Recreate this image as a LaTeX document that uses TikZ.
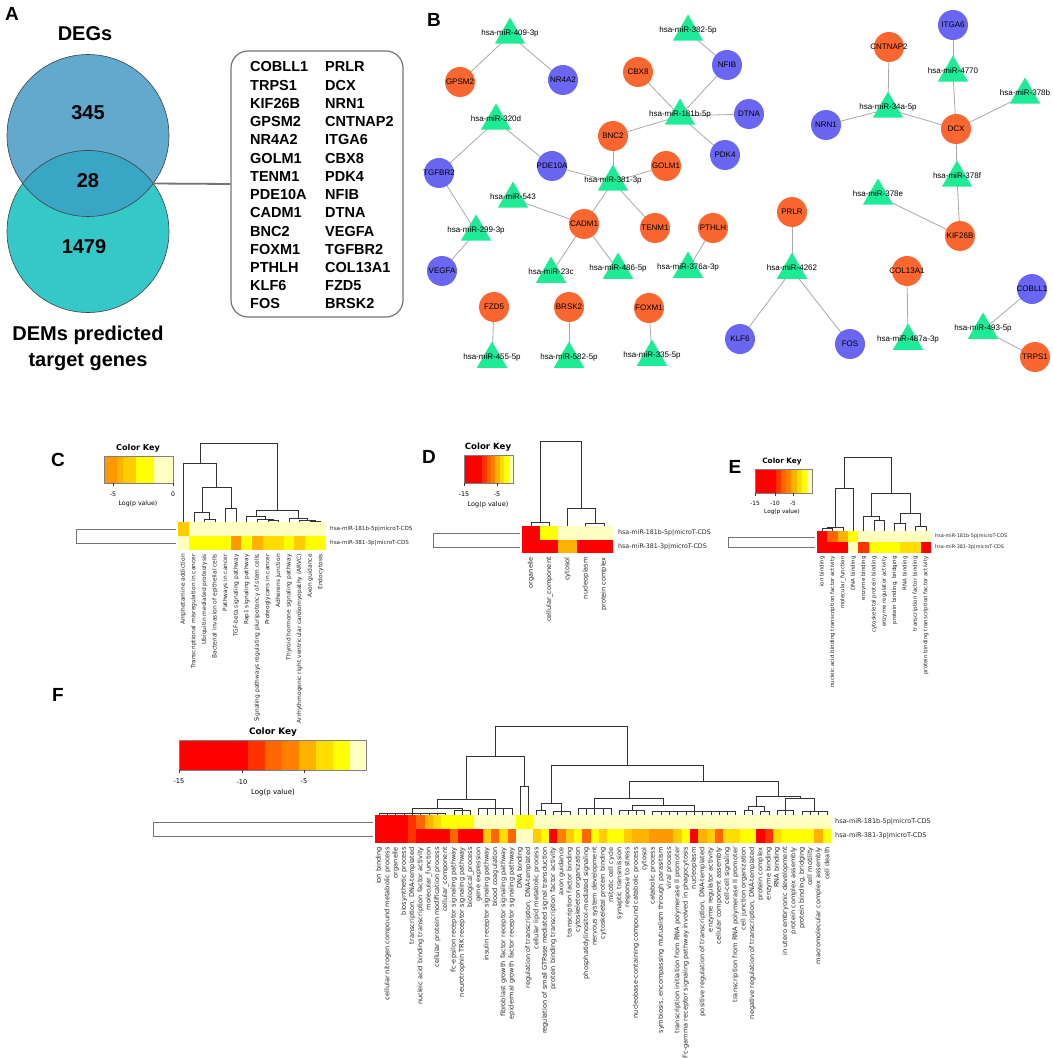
\documentclass[tikz,border=0pt]{standalone}
\usepackage{fontspec}
\setmainfont{Liberation Sans}
\newfontfamily\rfont{DejaVu Sans}
\usetikzlibrary{shapes.geometric,backgrounds}

\definecolor{degc}{HTML}{62A9CE}
\definecolor{demc}{HTML}{35C8C9}
\definecolor{bothc}{HTML}{3AA6C5}
\definecolor{downc}{HTML}{FA6630}
\definecolor{upc}{HTML}{6A66F2}
\definecolor{mirc}{HTML}{1EEB96}
\definecolor{edgec}{HTML}{A8A8A8}
% heat map colours, red to pale
\definecolor{hA}{HTML}{FF0000}
\definecolor{hB}{HTML}{FF3300}
\definecolor{hC}{HTML}{FF6600}
\definecolor{hD}{HTML}{FF8000}
\definecolor{hE}{HTML}{FF9900}
\definecolor{hF}{HTML}{FFB300}
\definecolor{hG}{HTML}{FFCC00}
\definecolor{hH}{HTML}{FFDD00}
\definecolor{hI}{HTML}{FFFF00}
\definecolor{hP}{HTML}{FFFFC0}

\newcommand{\fsz}[1]{\fontsize{#1}{#1}\selectfont}
% x0, y0, cell width, cell height, colours
\newcommand{\heatrow}[5]{%
  \foreach \c [count=\i from 0] in {#5} {\fill[\c] ({#1+\i*#3},#2) rectangle ++(#3,#4);}}
% x1, y1, x2, y2, merge height
\newcommand{\dlink}[5]{\draw[dendro] (#1,#2) |- (#3,#5) -- (#3,#4);}
% x0, width, first col, last col, height, base
\newcommand{\dcomb}[6]{%
  \draw[dendro] ({#1+(#3-0.5)*#2},#5) -- ({#1+(#4-0.5)*#2},#5);
  \foreach \k in {#3,...,#4} {\draw[dendro] ({#1+(\k-0.5)*#2},#5) -- ({#1+(\k-0.5)*#2},#6);}}
% x0, width, top, font size, prefix, labels
\newcommand{\collabels}[6]{%
  \foreach \t [count=\i] in {#6} {\node[collab, font=\rfont\fsz{#4}] (#5\i) at ({#1+(\i-0.5)*#2},#3) {\t};}}
% x0, y0, width, height
\newcommand{\colorkey}[4]{%
  \fill[hA] (#1,#2) rectangle ++({0.37*#3},#4);
  \foreach \c [count=\i from 0] in {hB,hC,hD,hF,hH,hI,hP} {\fill[\c] ({#1+(0.37+0.09*\i)*#3},#2) rectangle ++({0.09*#3+0.2},#4);}
  \draw[keyframe] (#1,#2) rectangle ++(#3,#4);}
% x, y, text, font size, name
\newcommand{\keytick}[5]{%
  \draw[dendro] (#1,#2) -- ++(0,3);
  \node[font=\rfont\fsz{#4}, inner sep=0pt] (#5) at (#1,{#2+#4+5}) {#3};}

\tikzset{
  panel/.style={font=\bfseries\fsz{19}, inner sep=0pt},
  venntitle/.style={font=\bfseries\fsz{20}, inner sep=0pt},
  vennnum/.style={font=\bfseries\fsz{20}, inner sep=0pt},
  vennline/.style={draw=black!75, line width=0.6pt},
  glist/.style={font=\bfseries\fsz{14.5}, anchor=west, inner sep=0pt},
  netlab/.style={font=\fsz{8}, inner sep=0pt},
  downgene/.style={circle, fill=downc, minimum size=30pt, inner sep=0pt, label={[netlab]center:#1}},
  upgene/.style={circle, fill=upc, minimum size=30pt, inner sep=0pt, label={[netlab]center:#1}},
  mir/.style={regular polygon, regular polygon sides=3, fill=mirc, minimum size=35pt, inner sep=0pt,
    label={[netlab, yshift=2pt]center:#1}},
  link/.style={draw=edgec, line width=0.8pt},
  dendro/.style={draw=black!80, line width=0.5pt},
  rowdendro/.style={draw=black!55, line width=1pt},
  keyframe/.style={draw=black!50, line width=0.4pt},
  keytitle/.style={font=\rfont\bfseries\fsz{#1}, inner sep=0pt},
  collab/.style={rotate=90, anchor=east, inner sep=0pt, text=black!85},
  rowlab/.style={font=\rfont\fsz{#1}, anchor=west, inner sep=0pt, text=black!85}
}

\begin{document}
\begin{tikzpicture}[x=1pt,y=-1pt]
\useasboundingbox (0,0) rectangle (1052,1059);

% ---- A: Venn diagram
\node[panel] (pa) at (12,14) {A};
\fill[demc] (88,231.5) circle[radius=81];
\fill[degc] (88,135.5) circle[radius=81];
\begin{scope}
  \clip (88,231.5) circle[radius=81];
  \fill[bothc] (88,135.5) circle[radius=81];
\end{scope}
\draw[vennline] (88,135.5) circle[radius=81];
\draw[vennline] (88,231.5) circle[radius=81];
\node[venntitle] (degs) at (85,34) {DEGs};
\node[vennnum] (n345) at (88,113) {345};
\node[vennnum] (n28) at (88,181) {28};
\node[vennnum] (n1479) at (84,247) {1479};
\node[venntitle] (dems) at (88,335) {DEMs predicted};
\node[venntitle] (tgenes) at (88,362) {target genes};

\node[draw=black!55, line width=1.2pt, rounded corners=17pt, minimum width=172pt,
  minimum height=266pt] (genebox) at (317,184) {};
\coordinate (venncut) at (153,183.5);
\draw[draw=black!55, line width=1.8pt] (venncut) -- (genebox.west);
\foreach \g [count=\i from 0] in {COBLL1,TRPS1,KIF26B,GPSM2,NR4A2,GOLM1,TENM1,PDE10A,CADM1,BNC2,FOXM1,PTHLH,KLF6,FOS}
  \node[glist] (ga\i) at (250,{67+18.23*\i}) {\g};
\foreach \g [count=\i from 0] in {PRLR,DCX,NRN1,CNTNAP2,ITGA6,CBX8,PDK4,NFIB,DTNA,VEGFA,TGFBR2,COL13A1,FZD5,BRSK2}
  \node[glist] (gb\i) at (325,{67+18.23*\i}) {\g};

% ---- B: miRNA-gene network
\node[panel] (pb) at (434,20) {B};
\node[mir=hsa-miR-409-3p] (mir409) at (510,35) {};
\node[downgene=GPSM2] (gpsm2) at (460,82) {};
\node[upgene=NR4A2] (nr4a2) at (563,80) {};
\node[mir=hsa-miR-382-5p] (mir382) at (688,32) {};
\node[upgene=NFIB] (nfib) at (727,65) {};
\node[downgene=CBX8] (cbx8) at (638,72) {};
\node[mir=hsa-miR-181b-5p] (mir181b) at (680,116) {};
\node[upgene=DTNA] (dtna) at (749,114) {};
\node[upgene=PDK4] (pdk4) at (725,155) {};
\node[downgene=BNC2] (bnc2) at (613,136) {};
\node[mir=hsa-miR-320d] (mir320d) at (496,121) {};
\node[upgene=TGFBR2] (tgfbr2) at (439,173) {};
\node[upgene=PDE10A] (pde10a) at (552,166) {};
\node[downgene=GOLM1] (golm1) at (666,166) {};
\node[mir=hsa-miR-381-3p] (mir381) at (613,182) {};
\node[mir=hsa-miR-543] (mir543) at (513,199) {};
\node[downgene=CADM1] (cadm1) at (584,224) {};
\node[downgene=TENM1] (tenm1) at (655,228) {};
\node[downgene=PTHLH] (pthlh) at (713,228) {};
\node[mir=hsa-miR-299-3p] (mir299) at (476,232) {};
\node[upgene=VEGFA] (vegfa) at (442,271) {};
\node[mir=hsa-miR-23c] (mir23c) at (551,274) {};
\node[mir=hsa-miR-486-5p] (mir486) at (618,270) {};
\node[mir=hsa-miR-376a-3p] (mir376a) at (688,269) {};
\node[downgene=FZD5] (fzd5) at (494,307) {};
\node[downgene=BRSK2] (brsk2) at (569,307) {};
\node[downgene=FOXM1] (foxm1) at (649,308) {};
\node[mir=hsa-miR-455-5p] (mir455) at (492,359) {};
\node[mir=hsa-miR-582-5p] (mir582) at (569,359) {};
\node[mir=hsa-miR-335-5p] (mir335) at (652,357) {};
\node[upgene=ITGA6] (itga6) at (953,25) {};
\node[downgene=CNTNAP2] (cntnap2) at (889,47) {};
\node[mir=hsa-miR-4770] (mir4770) at (953,73) {};
\node[mir=hsa-miR-378b] (mir378b) at (1025,95) {};
\node[mir=hsa-miR-34a-5p] (mir34a) at (888,109) {};
\node[upgene=NRN1] (nrn1) at (826,125) {};
\node[downgene=DCX] (dcx) at (956,129) {};
\node[mir=hsa-miR-378f] (mir378f) at (957,178) {};
\node[mir=hsa-miR-378e] (mir378e) at (878,196) {};
\node[downgene=KIF26B] (kif26b) at (960,236) {};
\node[downgene=PRLR] (prlr) at (792,212) {};
\node[mir=hsa-miR-4262] (mir4262) at (792,270) {};
\node[upgene=KLF6] (klf6) at (740,339) {};
\node[upgene=FOS] (fos) at (850,344) {};
\node[downgene=COL13A1] (col13a1) at (907,271) {};
\node[mir=hsa-miR-487a-3p] (mir487a) at (908,341) {};
\node[upgene=COBLL1] (cobll1) at (1032,289) {};
\node[mir=hsa-miR-493-5p] (mir493) at (983,330) {};
\node[downgene=TRPS1] (trps1) at (1035,357) {};
\begin{scope}[on background layer]
\foreach \a/\b in {mir409/gpsm2, mir409/nr4a2, mir382/nfib, mir181b/cbx8, mir181b/nfib,
    mir181b/dtna, mir181b/pdk4, mir181b/bnc2, mir320d/tgfbr2, mir320d/pde10a, mir381/bnc2,
    mir381/pde10a, mir381/golm1, mir381/cadm1, mir381/tenm1, mir543/cadm1, mir299/tgfbr2,
    mir299/vegfa, cadm1/mir23c, cadm1/mir486, pthlh/mir376a, fzd5/mir455, brsk2/mir582,
    foxm1/mir335, cntnap2/mir34a, nrn1/mir34a, mir34a/dcx, itga6/mir4770, mir4770/dcx,
    mir378b/dcx, dcx/mir378f, mir378f/kif26b, mir378e/kif26b, prlr/mir4262, mir4262/klf6,
    mir4262/fos, col13a1/mir487a, cobll1/mir493, mir493/trps1}
  \draw[link] (\a.center) -- (\b.center);
\end{scope}

% ---- C: KEGG pathways
\node[panel] (pc) at (58,460) {C};
\node[keytitle=8.1] (ckey) at (138,448) {Color Key};
\fill[hE] (104,456) rectangle (117.2,483);
\fill[hF] (117,456) rectangle (123.2,483);
\fill[hG] (123,456) rectangle (136.2,483);
\fill[hI] (136,456) rectangle (154.2,483);
\fill[hP] (154,456) rectangle (173,483);
\draw[keyframe] (104,456) rectangle (173,483);
\keytick{113}{483}{-5}{6.2}{ct5}
\keytick{173}{483}{0}{6.2}{ct0}
\node[font=\rfont\fsz{6.2}, inner sep=0pt] (clog) at (138,504) {Log(p value)};
\heatrow{178}{522}{10.57}{14}{hG,hP,hP,hP,hP,hP,hP,hP,hP,hP,hP,hP,hP,hP}
\heatrow{178}{536}{10.57}{14}{hP,hI,hI,hI,hI,hE,hI,hF,hH,hH,hI,hG,hI,hI}
\node[rowlab=5.6] (crow1) at (330,529) {hsa-miR-181b-5p|microT-CDS};
\node[rowlab=5.6] (crow2) at (330,543) {hsa-miR-381-3p|microT-CDS};
\draw[rowdendro] (176,529) -- (76,529) -- (76,543) -- (176,543);
\dlink{204.4}{522}{215}{522}{519}
\dlink{193.9}{522}{209.7}{519}{512}
\dlink{225.6}{522}{236.1}{522}{508}
\dlink{201.8}{512}{230.9}{508}{487}
\dlink{183.3}{522}{216.4}{487}{463}
\dlink{267.8}{522}{278.4}{522}{520.5}
\dlink{257.3}{522}{273.1}{520.5}{519}
\dlink{246.7}{522}{265.2}{519}{516}
\dlink{310.1}{522}{320.7}{522}{521}
\dlink{299.5}{522}{315.4}{521}{520}
\dlink{289}{522}{307.5}{520}{518.5}
\dlink{256}{516}{298.3}{518.5}{510}
\dlink{199.9}{463}{277.2}{510}{443}
\collabels{178}{10.57}{554}{5.9}{ccol}{{Amphetamine addiction},{Transcriptional misregulation in cancer},
  {Ubiquitin mediated proteolysis},{Bacterial invasion of epithelial cells},{Pathways in cancer},
  {TGF-beta signaling pathway},{Rap1 signaling pathway},
  {Signaling pathways regulating pluripotency of stem cells},{Proteoglycans in cancer},
  {Adherens junction},{Thyroid hormone signaling pathway},
  {Arrhythmogenic right ventricular cardiomyopathy (ARVC)},{Axon guidance},{Endocytosis}}

% ---- D: cellular component
\node[panel] (pd) at (429,457) {D};
\node[keytitle=8.6] (dkey) at (488,447) {Color Key};
\colorkey{464}{455}{49}{28}
\keytick{464}{483}{-15}{6.4}{dt15}
\keytick{497}{483}{-5}{6.4}{dt5}
\node[font=\rfont\fsz{6.5}, inner sep=0pt] (dlog) at (488,505) {Log(p value)};
\heatrow{522}{526}{18.2}{13.5}{hA,hI,hP,hP,hP}
\heatrow{522}{539.5}{18.2}{13.5}{hA,hA,hF,hA,hA}
\node[rowlab=6.3] (drow1) at (618,533) {hsa-miR-181b-5p|microT-CDS};
\node[rowlab=6.3] (drow2) at (618,547) {hsa-miR-381-3p|microT-CDS};
\draw[rowdendro] (520,533) -- (433,533) -- (433,547) -- (520,547);
\dlink{531.1}{526}{549.3}{526}{522}
\dlink{585.7}{526}{603.9}{526}{523}
\dlink{567.5}{526}{594.8}{523}{508}
\dlink{540.2}{522}{581.2}{508}{441}
\collabels{522}{18.2}{557}{6.6}{dcol}{organelle,{cellular\_component},cytosol,nucleoplasm,{protein complex}}

% ---- E: molecular function
\node[panel] (pe) at (735,467) {E};
\node[keytitle=7.3] (ekey) at (782,462) {Color Key};
\colorkey{755}{469}{57}{24}
\keytick{755}{493}{-15}{5.8}{et15}
\keytick{775}{493}{-10}{5.8}{et10}
\keytick{793}{493}{-5}{5.8}{et5}
\node[font=\rfont\fsz{5.7}, inner sep=0pt] (elog) at (782,512) {Log(p value)};
\heatrow{817}{531}{10.36}{11}{hA,hC,hF,hI,hP,hP,hP,hP,hP,hP,hP}
\heatrow{817}{542}{10.36}{11}{hA,hA,hA,hP,hB,hI,hI,hI,hH,hH,hA}
\node[rowlab=4.9] (erow1) at (935,536) {hsa-miR-181b-5p|microT-CDS};
\node[rowlab=4.9] (erow2) at (935,547) {hsa-miR-381-3p|microT-CDS};
\draw[rowdendro] (815,537) -- (728,537) -- (728,547) -- (815,547);
\dlink{822.2}{531}{832.5}{531}{528}
\dlink{827.35}{528}{842.9}{531}{527}
\dlink{835.1}{527}{853.3}{531}{488}
\dlink{874}{531}{884.3}{531}{520}
\dlink{863.6}{531}{879.15}{520}{516}
\dlink{894.7}{531}{905}{531}{523}
\dlink{915.4}{531}{925.8}{531}{526}
\dlink{899.85}{523}{920.6}{526}{513}
\dlink{871.4}{516}{910.2}{513}{493}
\dlink{844.2}{488}{890.8}{493}{457}
\collabels{817}{10.36}{556}{5.5}{ecol}{{ion binding},{nucleic acid binding transcription factor activity},
  {molecular\_function},{DNA binding},{enzyme binding},{cytoskeletal protein binding},
  {enzyme regulator activity},{protein binding, bridging},{RNA binding},
  {transcription factor binding},{protein binding transcription factor activity}}

% ---- F: biological process
\node[panel] (pf) at (58,695) {F};
\node[keytitle=8.9] (fkey) at (273,732) {Color Key};
\colorkey{179}{740}{187.5}{30}
\keytick{179}{770}{-15}{6.6}{ft15}
\keytick{242}{770}{-10}{6.6}{ft10}
\keytick{304}{770}{-5}{6.6}{ft5}
\node[font=\rfont\fsz{7}, inner sep=0pt] (flog) at (273,793) {Log(p value)};
\heatrow{375}{815}{8.29}{14}{hA,hA,hA,hA,hB,hC,hF,hH,hI,hI,hI,hI,hP,hP,hP,hP,hP,hI,hI,
  hP,hP,hP,hP,hP,hP,hP,hP,hP,hP,hP,hP,hP,hP,hP,hP,hP,hP,hP,hP,hP,hP,hP,hP,hP,hP,hP,hP,hP,hP,hP,hP,hP,hP,hP,hP}
\heatrow{375}{829}{8.29}{14}{hA,hA,hA,hA,hB,hA,hA,hA,hA,hC,hA,hA,hA,hG,hC,hH,hC,hP,hP,
  hG,hI,hA,hD,hG,hI,hC,hI,hG,hI,hI,hG,hF,hF,hE,hE,hE,hG,hI,hA,hF,hG,hC,hH,hH,hI,hI,hA,hB,hH,
  hI,hI,hI,hI,hF,hI}
\node[rowlab=6.5] (frow1) at (835,822) {hsa-miR-181b-5p|microT-CDS};
\node[rowlab=6.5] (frow2) at (835,836) {hsa-miR-381-3p|microT-CDS};
\draw[rowdendro] (373,822) -- (153,822) -- (153,836) -- (373,836);
\dcomb{375}{8.29}{1}{9}{813}{815}
\dcomb{375}{8.29}{10}{12}{810}{815}
\dlink{412.3}{813}{462.1}{810}{808}
\dcomb{375}{8.29}{13}{17}{808}{815}
\dlink{437.2}{808}{495.2}{808}{799}
\dlink{520.1}{815}{528.4}{815}{786}
\dlink{466.2}{799}{524.25}{786}{756}
\dcomb{375}{8.29}{20}{21}{810}{815}
\dcomb{375}{8.29}{22}{24}{811}{815}
\dlink{540.85}{810}{561.55}{811}{803}
\dcomb{375}{8.29}{25}{29}{808}{815}
\dcomb{375}{8.29}{30}{33}{810}{815}
\dcomb{375}{8.29}{34}{44}{811}{815}
\dlink{632.05}{810}{694.2}{811}{805}
\dlink{594.7}{808}{663.1}{805}{798}
\dcomb{375}{8.29}{45}{46}{810}{815}
\dcomb{375}{8.29}{47}{48}{811}{815}
\dlink{748.05}{810}{764.65}{811}{806}
\dcomb{375}{8.29}{49}{51}{810}{815}
\dcomb{375}{8.29}{52}{55}{811}{815}
\dlink{785.4}{810}{814.35}{811}{798}
\dlink{756.35}{806}{799.9}{798}{796}
\dlink{628.9}{798}{778.1}{796}{781}
\dlink{551.2}{803}{703.5}{781}{765}
\dlink{495.2}{756}{627.35}{765}{726}
\collabels{375}{8.29}{847}{6.6}{fcol}{{ion binding},{cellular nitrogen compound metabolic process},
  organelle,{biosynthetic process},{transcription, DNA-templated},
  {nucleic acid binding transcription factor activity},{molecular\_function},
  {cellular protein modification process},{cellular\_component},
  {Fc-epsilon receptor signaling pathway},{neurotrophin TRK receptor signaling pathway},
  {biological\_process},{gene expression},{insulin receptor signaling pathway},
  {blood coagulation},{fibroblast growth factor receptor signaling pathway},
  {epidermal growth factor receptor signaling pathway},{DNA binding},
  {regulation of transcription, DNA-templated},{cellular lipid metabolic process},
  {regulation of small GTPase mediated signal transduction},
  {protein binding transcription factor activity},{axon guidance},
  {transcription factor binding},{cytoskeleton organization},
  {phosphatidylinositol-mediated signaling},{nervous system development},
  {cytoskeletal protein binding},{mitotic cell cycle},{synaptic transmission},
  {response to stress},{nucleobase-containing compound catabolic process},cytosol,
  {catabolic process},{symbiosis, encompassing mutualism through parasitism},
  {viral process},{transcription initiation from RNA polymerase II promoter},
  {Fc-gamma receptor signaling pathway involved in phagocytosis},nucleoplasm,
  {positive regulation of transcription, DNA-templated},{enzyme regulator activity},
  {cellular component assembly},{cell-cell signaling},
  {transcription from RNA polymerase II promoter},{cell junction organization},
  {negative regulation of transcription, DNA-templated},{protein complex},
  {enzyme binding},{RNA binding},{in utero embryonic development},
  {protein complex assembly},{protein binding, bridging},{cell motility},
  {macromolecular complex assembly},{cell death}}
\end{tikzpicture}
\end{document}
